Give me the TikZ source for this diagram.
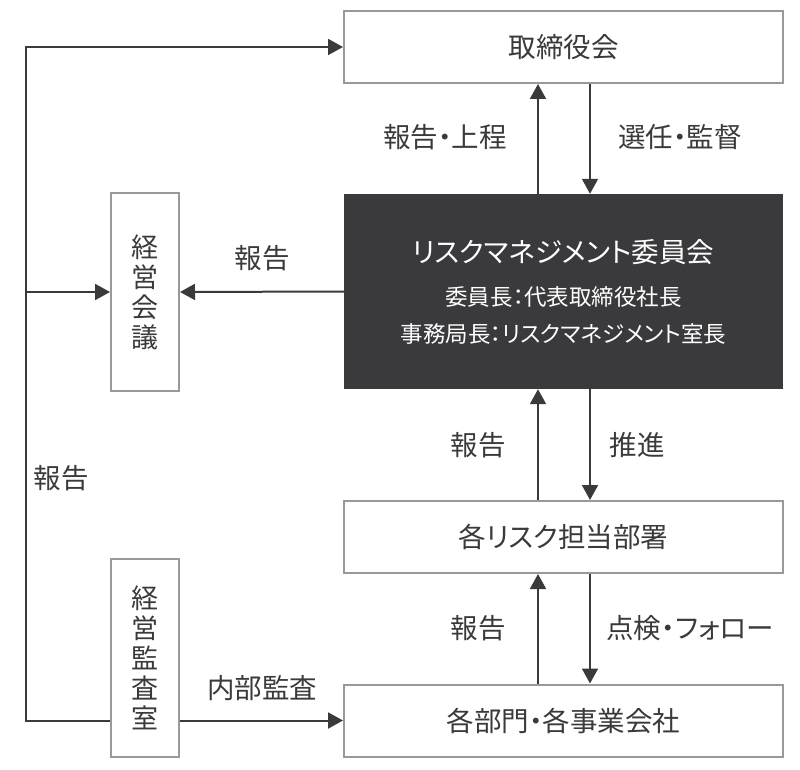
\documentclass[tikz,border=0pt]{standalone}
\usepackage{fontspec}
\setmainfont[RawFeature=+palt]{Noto Sans CJK JP}
\usetikzlibrary{arrows.meta}
\definecolor{ink}{HTML}{3A3A3D}
\definecolor{frame}{HTML}{999999}
\begin{document}
\begin{tikzpicture}[x=1pt,y=-1pt,
    box/.style={draw=frame,line width=2pt,fill=white,text=ink,inner sep=0pt,
      minimum width=439pt,minimum height=72pt,font=\fontsize{27.5}{30}\selectfont},
    darkbox/.style={fill=ink,text=white,inner sep=0pt,minimum width=439pt,
      minimum height=195pt,align=center,font=\fontsize{22.5}{37}\selectfont},
    tallbox/.style={draw=frame,line width=2pt,fill=white,text=ink,inner sep=0pt,
      minimum width=68pt,minimum height=198pt,align=center,
      font=\fontsize{27}{30}\selectfont},
    lbl/.style={text=ink,font=\fontsize{27.5}{30}\selectfont},
    arr/.style={draw=ink,line width=2pt,-{Triangle[width=16pt,length=15pt]}},
    line/.style={draw=ink,line width=2pt}]
    \useasboundingbox (0,0) rectangle (800,770);
    % boxes
    \node[box] (board) at (563.5,47) {取締役会};
    \node[darkbox] (rmc) at (563.5,291.5) {%
      {\fontsize{27.5}{37}\selectfont リスクマネジメント委員会}\\[6pt]
      委員長：代表取締役社長\\
      事務局長：リスクマネジメント室長};
    \node[box] (riskdept) at (563.5,537) {各リスク担当部署};
    \node[box] (divisions) at (563.5,720.5) {各部門・各事業会社};
    \node[tallbox] (mgmt) at (145,292) {経\\営\\会\\議};
    \node[tallbox] (audit) at (145,658) {経\\営\\監\\査\\室};
    % helper columns
    \coordinate (upx) at (538,0);
    \coordinate (dnx) at (590,0);
    \coordinate (lx) at (26,0);
    % vertical connectors
    \draw[arr] (rmc.north -| upx) -- (board.south -| upx);
    \draw[arr] (board.south -| dnx) -- (rmc.north -| dnx);
    \draw[arr] (riskdept.north -| upx) -- (rmc.south -| upx);
    \draw[arr] (rmc.south -| dnx) -- (riskdept.north -| dnx);
    \draw[arr] (divisions.north -| upx) -- (riskdept.south -| upx);
    \draw[arr] (riskdept.south -| dnx) -- (divisions.north -| dnx);
    % left side
    \draw[arr] (audit.west |- divisions.west) -- (lx |- divisions.west)
      -- (lx |- board.west) -- (board.west);
    \draw[arr] (lx |- mgmt.west) -- (mgmt.west);
    \draw[arr] (rmc.west) -- (mgmt.east);
    \draw[arr] (audit.east |- divisions.west) -- (divisions.west);
    % labels
    \node[lbl] (l1) at (445,137) {報告・上程};
    \node[lbl] (l2) at (680,137) {選任・監督};
    \node[lbl] (l3) at (262,258) {報告};
    \node[lbl] (l4) at (478,445) {報告};
    \node[lbl] (l5) at (637,445) {推進};
    \node[lbl] (l6) at (478,628) {報告};
    \node[lbl] (l7) at (690,628) {点検・フォロー};
    \node[lbl] (l8) at (262,688) {内部監査};
    \node[lbl] (l9) at (61,478) {報告};
\end{tikzpicture}
\end{document}
